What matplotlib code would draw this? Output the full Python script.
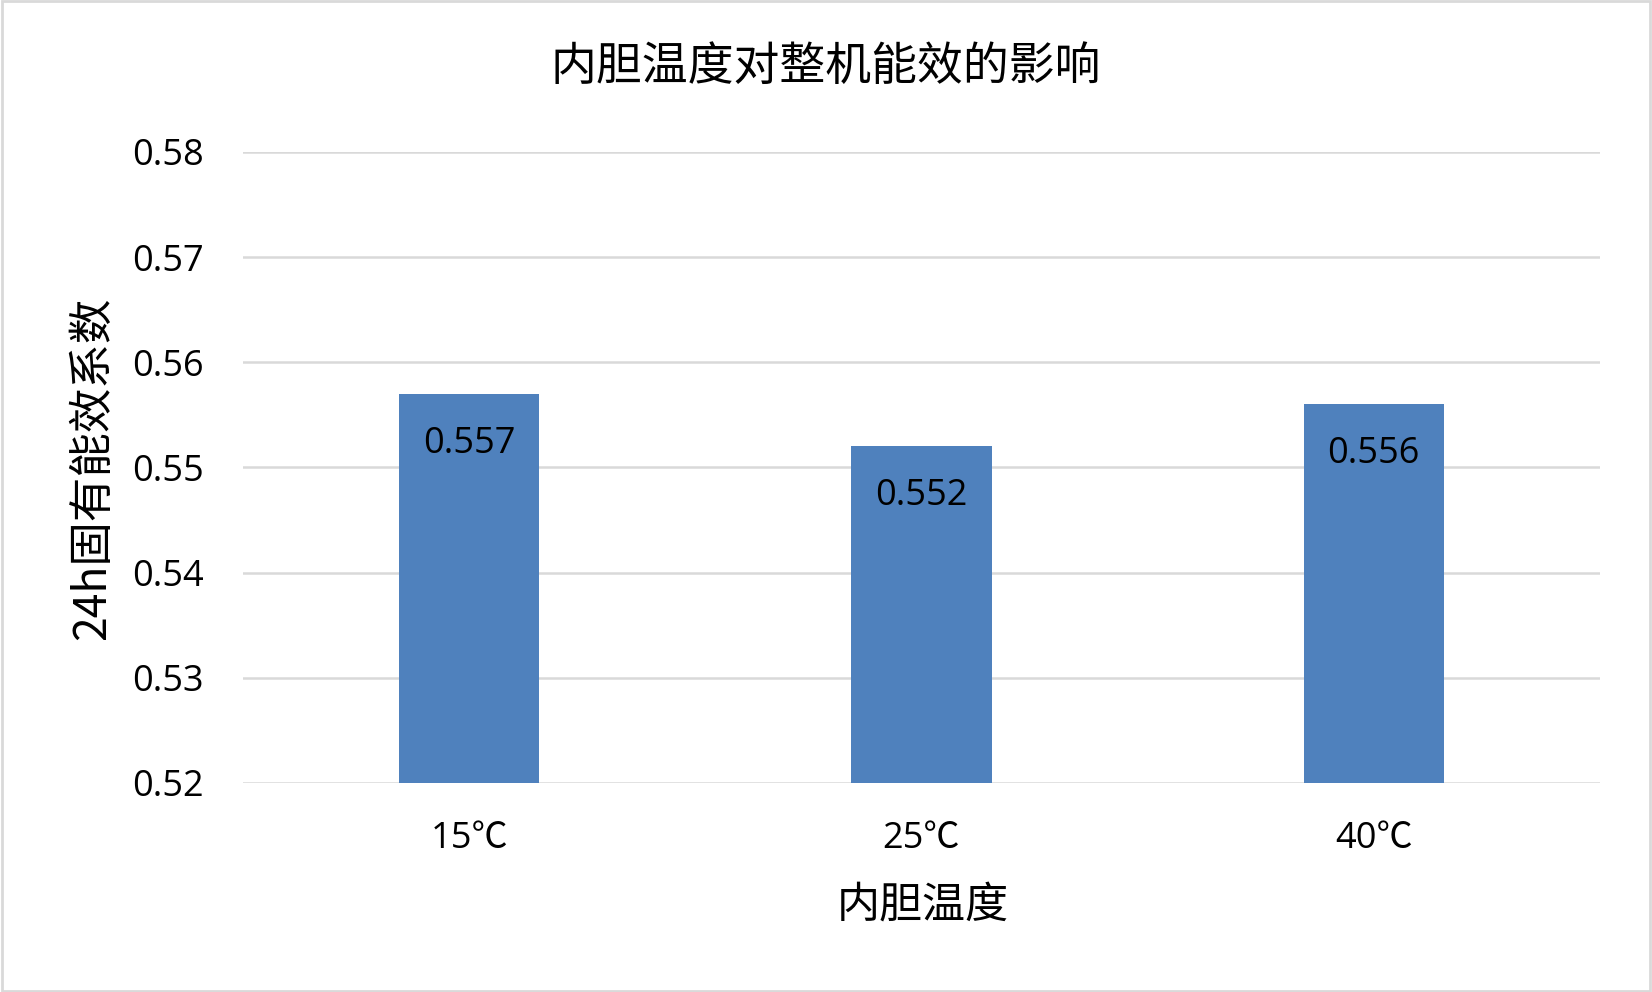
import matplotlib
matplotlib.use('Agg')
import matplotlib.pyplot as plt
from matplotlib.patches import Rectangle

categories = ['15℃', '25℃', '40℃']
values = [0.557, 0.552, 0.556]
yticks = [0.52, 0.53, 0.54, 0.55, 0.56, 0.57, 0.58]

title = '内胆温度对整机能效的影响'
xlabel = '内胆温度'
ylabel = '24h固有能效系数'

FONTS = ['Open Sans', 'Noto Sans CJK SC', 'DejaVu Sans']
CJK = ['Noto Sans CJK SC', 'DejaVu Sans']
plt.rcParams['font.family'] = FONTS

fig = plt.figure(figsize=(16.52, 9.92), dpi=100)
ax = fig.add_axes([0.1471, 0.2107, 0.9685 - 0.1471, 0.8468 - 0.2107])

x = list(range(len(categories)))
bars = ax.bar(x, values, width=0.31, color='#4f81bd', zorder=3)

ax.set_ylim(0.52, 0.58)
ax.set_xlim(-0.5, len(categories) - 0.5)
ax.set_yticks(yticks)
ax.set_yticklabels([f'{t:.2f}' for t in yticks], fontsize=26)
ax.set_xticks(x)
ax.set_xticklabels(categories, fontsize=26)
ax.tick_params(length=0, pad=28, axis='y')
ax.tick_params(length=0, pad=27, axis='x')
ax.grid(axis='y', color='#d9d9d9', linewidth=1.8, zorder=0)
for s in ax.spines.values():
    s.set_visible(False)

for xi, v in zip(x, values):
    ax.annotate(f'{v:.3f}', (xi, v), xytext=(0, -36), textcoords='offset points',
                ha='center', va='center', fontsize=26, color='#000000', zorder=4)

fig.text(0.5, 1 - 67 / 992, title, ha='center', va='center', fontsize=33, family=CJK)
fig.text(923 / 1652, 1 - 906 / 992, xlabel, ha='center', va='center', fontsize=31, family=CJK)
fig.text(92 / 1652, 1 - 468 / 992, ylabel, ha='center', va='center', fontsize=32,
         rotation=90, family=CJK)

fig.patches.append(Rectangle((0.001, 0.001), 0.998, 0.998, transform=fig.transFigure,
                             fill=False, edgecolor='#d9d9d9', linewidth=2))

fig.savefig('out.png', dpi=100)
